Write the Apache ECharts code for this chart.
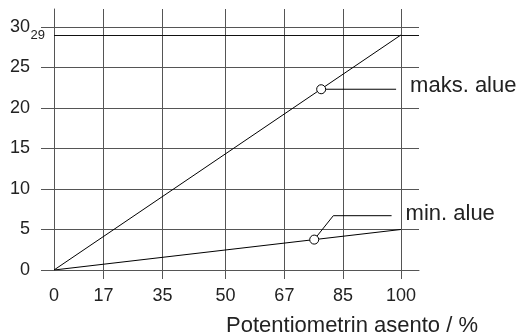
<!DOCTYPE html>
<html>
<head>
<meta charset="utf-8">
<script src="https://cdn.jsdelivr.net/npm/echarts@6/dist/echarts.min.js"></script>
<style>
html,body{margin:0;padding:0;background:#fff;}
#chart{width:525px;height:336px;}
</style>
</head>
<body>
<div id="chart"></div>
<script>
// arvot luettu kuvasta
var xLine = [0, 100];
var maxLine = [0, 29];
var minLine = [0, 5];
var maxMarker = [77, 22.3];
var minMarker = [75, 3.75];
var maxNote = [[77, 22.3], [98.6, 22.3]];
var minNote = [[75, 3.75], [80.5, 6.7], [97.3, 6.7]];
// x-akselin viivat ovat kuvassa hieman eri kohdissa kuin tekstit
var xTickPos = [0, 14.3, 31.3, 49.4, 66.4, 83.3, 100];
var xTickText = ['0', '17', '35', '50', '67', '85', '100'];
var yTicks = [0, 5, 10, 15, 20, 25, 30];
var yExtra = 29;

var gridColor = '#555';
var font = 'Liberation Sans, Arial, sans-serif';

function pairs(xs, ys){
	var out = [];
	for(var i=0;i<xs.length;i++){
		out.push([xs[i], ys[i]]);
	}
	return out;
}

var chart = echarts.init(document.getElementById('chart'));
var option = {
	backgroundColor: '#fff',
	animation: false,
	grid: {left: 54, right: 106, top: 9, bottom: 66, containLabel: false},
	xAxis: {
		type: 'value',
		min: 0,
		max: 105.2,
		axisLine: {show: true, lineStyle: {color: gridColor, width: 1}},
		axisTick: {show: true, length: 9, customValues: xTickPos.slice(1), lineStyle: {color: gridColor}},
		axisLabel: {
			customValues: xTickPos,
			margin: 17,
			fontSize: 18,
			color: '#222',
			fontFamily: font,
			formatter: function(v){
				var i = xTickPos.indexOf(v);
				return i >= 0 ? xTickText[i] : '';
			}
		},
		splitLine: {show: true, lineStyle: {color: gridColor, width: 1}}
	},
	yAxis: {
		type: 'value',
		min: 0,
		max: 32.2,
		axisLine: {show: true, lineStyle: {color: gridColor, width: 1}},
		axisTick: {show: true, length: 13, customValues: yTicks, lineStyle: {color: gridColor}},
		axisLabel: {
			customValues: yTicks,
			margin: 24,
			fontSize: 18,
			color: '#222',
			fontFamily: font
		},
		splitLine: {show: true, lineStyle: {color: gridColor, width: 1}}
	},
	graphic: [{
		type: 'text',
		right: 525 - 478,
		top: 315,
		style: {text: 'Potentiometrin asento / %', fontSize: 22, fill: '#222', fontFamily: font}
	}],
	series: [
		{
			name: 'maks',
			type: 'line',
			data: pairs(xLine, maxLine),
			showSymbol: false,
			lineStyle: {color: '#000', width: 1},
			silent: true,
			markLine: {
				silent: true,
				symbol: 'none',
				lineStyle: {color: '#111', width: 1, type: 'solid'},
				label: {
					show: true,
					position: 'start',
					distance: 9,
					formatter: '29',
					fontSize: 13,
					color: '#222',
					fontFamily: font,
					padding: [8, 0, 0, 0]
				},
				data: [{yAxis: yExtra}]
			}
		},
		{
			name: 'min',
			type: 'line',
			data: pairs(xLine, minLine),
			showSymbol: false,
			lineStyle: {color: '#000', width: 1},
			silent: true
		},
		{
			name: 'maksNote',
			type: 'line',
			data: maxNote,
			showSymbol: false,
			lineStyle: {color: '#000', width: 1},
			silent: true,
			endLabel: {
				show: true,
				formatter: 'maks. alue',
				distance: 14,
				offset: [0, -3],
				fontSize: 22,
				color: '#222',
				fontFamily: font
			}
		},
		{
			name: 'minNote',
			type: 'line',
			data: minNote,
			showSymbol: false,
			lineStyle: {color: '#000', width: 1},
			silent: true,
			endLabel: {
				show: true,
				formatter: 'min. alue',
				distance: 14,
				offset: [0, -2],
				fontSize: 22,
				color: '#222',
				fontFamily: font
			}
		},
		{
			name: 'merkit',
			type: 'scatter',
			data: [maxMarker, minMarker],
			symbol: 'circle',
			symbolSize: 9,
			z: 5,
			itemStyle: {color: '#fff', borderColor: '#000', borderWidth: 1, opacity: 1},
			silent: true
		}
	]
};
chart.setOption(option);
</script>
</body>
</html>
